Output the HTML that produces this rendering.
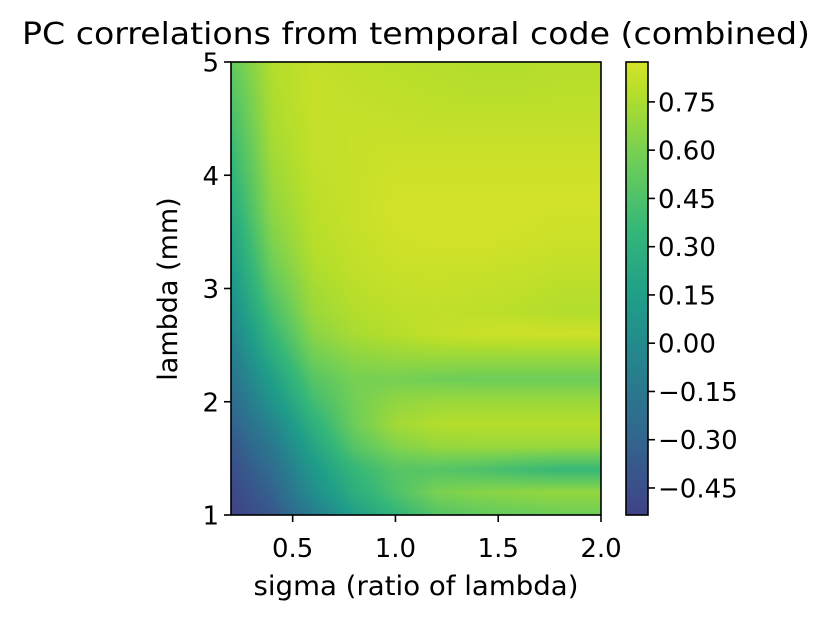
<!DOCTYPE html>
<html><head><meta charset="utf-8"><style>
body{margin:0;background:#fff;width:832px;height:622px;overflow:hidden;position:relative;font-family:"DejaVu Sans","Liberation Sans",sans-serif}
canvas,svg{position:absolute;left:0;top:0}
</style></head><body>
<canvas id="hm" width="832" height="622"></canvas>
<svg id="ov" width="832" height="622" font-family="DejaVu Sans, Liberation Sans, sans-serif"></svg>
<script>
const sigmas=[0.2,0.4,0.6,0.8,1.0,1.2,1.4,1.6,1.8,2.0];
const lambdas=[1.0,1.2,1.4,1.6,1.8,2.0,2.2,2.4,2.6,2.8,3.0,3.2,3.4,3.6,3.8,4.0,4.2,4.4,4.6,4.8,5.0];
const zRows=[
[-0.53,-0.40,-0.12,0.15,0.33,0.47,0.52,0.54,0.56,0.56],
[-0.50,-0.32,0.02,0.28,0.45,0.60,0.64,0.66,0.68,0.68],
[-0.46,-0.24,0.10,0.35,0.48,0.48,0.45,0.40,0.36,0.36],
[-0.40,-0.15,0.20,0.48,0.62,0.68,0.69,0.69,0.69,0.69],
[-0.33,-0.05,0.30,0.56,0.72,0.77,0.78,0.78,0.78,0.78],
[-0.26,0.07,0.40,0.58,0.67,0.70,0.70,0.70,0.70,0.70],
[-0.19,0.16,0.48,0.59,0.59,0.57,0.56,0.56,0.56,0.56],
[-0.12,0.26,0.57,0.66,0.69,0.70,0.70,0.70,0.70,0.70],
[-0.05,0.35,0.65,0.74,0.78,0.82,0.84,0.85,0.85,0.85],
[0.02,0.43,0.70,0.77,0.80,0.81,0.80,0.79,0.77,0.76],
[0.08,0.50,0.73,0.79,0.82,0.83,0.82,0.81,0.79,0.79],
[0.13,0.56,0.76,0.81,0.84,0.84,0.84,0.83,0.82,0.82],
[0.18,0.61,0.78,0.82,0.85,0.86,0.86,0.85,0.84,0.84],
[0.23,0.65,0.79,0.83,0.86,0.86,0.86,0.86,0.85,0.85],
[0.28,0.68,0.80,0.83,0.86,0.86,0.86,0.86,0.86,0.86],
[0.32,0.70,0.81,0.83,0.85,0.85,0.85,0.85,0.85,0.85],
[0.36,0.72,0.82,0.83,0.84,0.84,0.84,0.84,0.84,0.84],
[0.40,0.74,0.82,0.83,0.83,0.82,0.82,0.82,0.82,0.82],
[0.44,0.75,0.83,0.82,0.81,0.80,0.80,0.80,0.80,0.80],
[0.48,0.76,0.83,0.81,0.80,0.79,0.78,0.78,0.79,0.79],
[0.52,0.77,0.82,0.80,0.79,0.78,0.77,0.77,0.78,0.78]];
const xTicks=[0.5,1.0,1.5,2.0];
const yTicks=[1,2,3,4,5];
const cbTicks=[0.75,0.60,0.45,0.30,0.15,0.00,-0.15,-0.30,-0.45];

const L=231,R=601,T=62,B=515;
const vmin=-0.534,vmax=0.874;
const X=s=>L+(s-0.2)/(2.0-0.2)*(R-L);
const Y=l=>B-(l-1)/(5-1)*(B-T);
const CB={l:626,r:648};
const CY=v=>B-(v-vmin)/(vmax-vmin)*(B-T);
const vir=["#440154","#482878","#3e4989","#31688e","#26828e","#1f9e89","#35b779","#6ece58","#b5de2b","#fde725"].map(h=>[parseInt(h.slice(1,3),16),parseInt(h.slice(3,5),16),parseInt(h.slice(5,7),16)]);
function cmap(v){let t=(v-vmin)/(vmax-vmin);t=Math.max(0,Math.min(1,t));t=0.2+0.74*t;
 const f=t*(vir.length-1),i=Math.min(vir.length-2,Math.floor(f)),u=f-i;
 return vir[i].map((c,k)=>Math.round(c+(vir[i+1][k]-c)*u));}
function interp(arr,v){let i=0;while(i<arr.length-2&&v>arr[i+1])i++;return [i,Math.max(0,Math.min(1,(v-arr[i])/(arr[i+1]-arr[i])))];}
const cv=document.getElementById('hm'),ctx=cv.getContext('2d');
const img=ctx.createImageData(R-L,B-T);
for(let py=0;py<B-T;py++){const lam=1+(B-T-py-0.5)/(B-T)*4;const [j,v]=interp(lambdas,lam);
 for(let px=0;px<R-L;px++){const s=0.2+(px+0.5)/(R-L)*1.8;const [i,u]=interp(sigmas,s);
  const z=(1-v)*((1-u)*zRows[j][i]+u*zRows[j][i+1])+v*((1-u)*zRows[j+1][i]+u*zRows[j+1][i+1]);
  const c=cmap(z),o=(py*(R-L)+px)*4;img.data[o]=c[0];img.data[o+1]=c[1];img.data[o+2]=c[2];img.data[o+3]=255;}}
ctx.putImageData(img,L,T);
for(let py=T;py<B;py++){const c=cmap(vmin+(B-py-0.5)/(B-T)*(vmax-vmin));ctx.fillStyle=`rgb(${c})`;ctx.fillRect(CB.l,py,CB.r-CB.l,1);}
const svg=document.getElementById('ov');const NS="http://www.w3.org/2000/svg";
function el(tag,attrs,txt){const e=document.createElementNS(NS,tag);for(const k in attrs)e.setAttribute(k,attrs[k]);if(txt!=null)e.textContent=txt;svg.appendChild(e);return e;}
let e;
e=el('rect',{x:L,y:T,width:R-L,height:B-T,fill:'none',stroke:'#000','stroke-width':1.6});


e=el('rect',{x:CB.l,y:T,width:CB.r-CB.l,height:B-T,fill:'none',stroke:'#000','stroke-width':1.6});


xTicks.forEach(t=>{const x=X(t);el('line',{x1:x,x2:x,y1:B,y2:B+7,stroke:'#000','stroke-width':1.6});
 e=el('text',{x:x,y:557,'font-size':26,'text-anchor':'middle'},t.toFixed(1));
 
 });
yTicks.forEach(t=>{const y=Y(t);el('line',{x1:L-7,x2:L,y1:y,y2:y,stroke:'#000','stroke-width':1.6});
 e=el('text',{x:L-12,y:y+9.5,'font-size':26,'text-anchor':'end'},String(t));
 
 });
cbTicks.forEach(t=>{const y=CY(t);el('line',{x1:CB.r,x2:CB.r+7,y1:y,y2:y,stroke:'#000','stroke-width':1.6});
 e=el('text',{x:CB.r+10,y:y+9.5,'font-size':26},(t<0?'\u2212':'')+Math.abs(t).toFixed(2));
 
 });
e=el('text',{x:416,y:44,'font-size':30,'text-anchor':'middle',textLength:788,lengthAdjust:'spacingAndGlyphs'},'PC correlations from temporal code (combined)');


e=el('text',{x:416,y:595,'font-size':27,'text-anchor':'middle',textLength:325,lengthAdjust:'spacingAndGlyphs'},'sigma (ratio of lambda)');


e=el('text',{x:177,y:289,'font-size':27,'text-anchor':'middle',transform:'rotate(-90 177 289)'},'lambda (mm)');


</script>
</body></html>
